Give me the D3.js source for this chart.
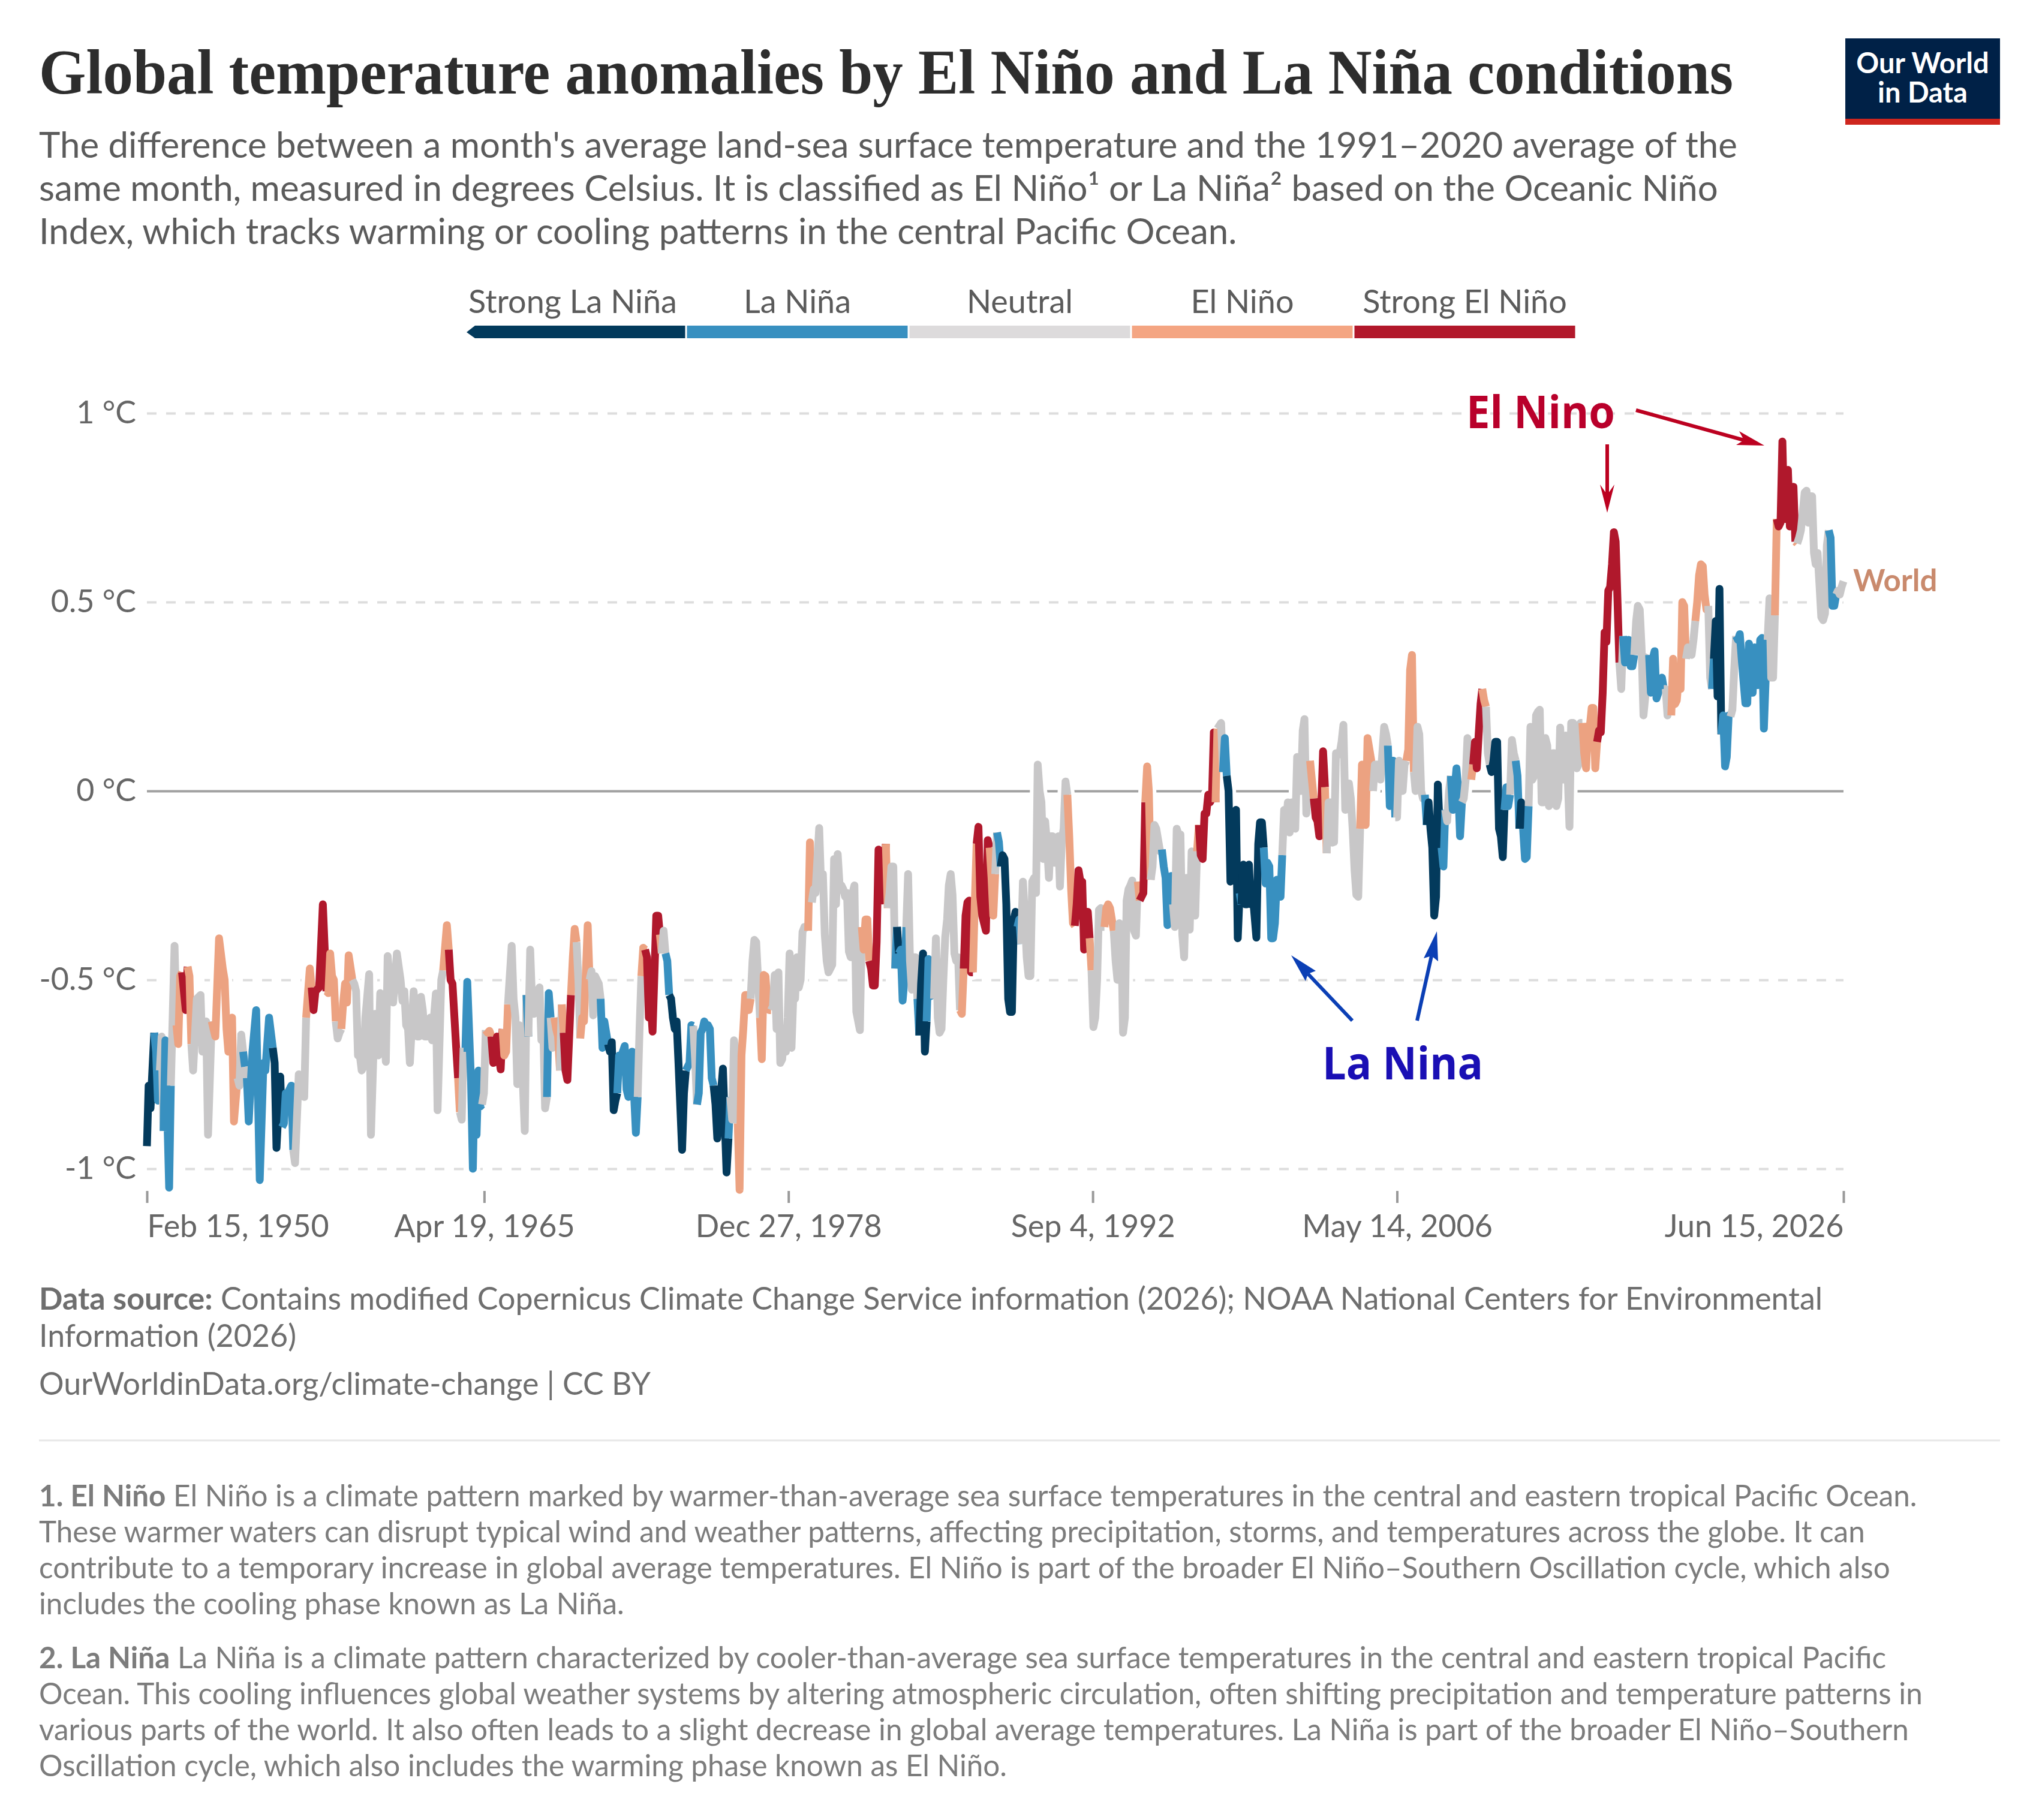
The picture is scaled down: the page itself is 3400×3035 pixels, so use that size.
<!DOCTYPE html>
<html>
<head>
<meta charset="utf-8">
<script src="https://cdn.jsdelivr.net/npm/d3@7"></script>
<style>
  html, body { margin: 0; padding: 0; background: #fff; }
  text { font-family: Lato, sans-serif; }
</style>
</head>
<body>
<svg id="chart" width="3400" height="3035"></svg>
<script>
// Legend and phases, index matches runPhases below
const phaseNames = ["Strong La Niña", "La Niña", "Neutral", "El Niño", "Strong El Niño"];
const legendColors = ["#023a5c", "#3890c0", "#dddbdc", "#f4a582", "#b2182b"];
const lineColors = ["#033a5c", "#3890c0", "#c8c7c8", "#eca281", "#b0182c"];

const yTicks = [-1, -0.5, 0, 0.5, 1];
const xTickDates = ["1950-02-15", "1965-04-19", "1978-12-27", "1992-09-04", "2006-05-14", "2026-06-15"];

// One entry per stretch of the line with the same phase.
const runPhases = [
  0, 1, 2, 1, 2, 3, 4, 3, 2, 3,
  2, 1, 2, 1, 0, 1, 2, 3, 4, 3,
  2, 3, 2, 3, 4, 3, 2, 1, 2, 3,
  4, 3, 2, 1, 2, 1, 2, 3, 2, 3,
  4, 3, 2, 3, 2, 1, 0, 1, 2, 3,
  4, 3, 2, 1, 0, 1, 2, 1, 0, 1,
  2, 3, 2, 3, 2, 3, 2, 3, 4, 3,
  2, 1, 0, 1, 2, 1, 0, 1, 2, 3,
  4, 3, 4, 3, 2, 1, 0, 1, 2, 3,
  4, 3, 2, 3, 2, 3, 4, 3, 2, 1,
  2, 3, 4, 3, 2, 1, 0, 1, 0, 1,
  2, 3, 4, 3, 2, 3, 2, 1, 2, 3,
  2, 1, 0, 1, 2, 1, 2, 3, 4, 3,
  2, 0, 1, 2, 1, 0, 1, 2, 3, 4,
  2, 1, 2, 1, 2, 3, 2, 3, 2, 1,
  0, 1, 2, 1, 2, 3, 4, 3, 2, 1, 2
];

const runMonths = [
  [0, 1, 2, 4],
  [5, 6, 7],
  [8, 9],
  [10, 12, 13],
  [15, 16],
  [17, 18, 19],
  [20, 21, 22],
  [23, 24],
  [25, 27, 29, 30, 32, 33, 35],
  [37, 39, 41, 42, 43, 44, 46, 47, 49],
  [50, 51, 52],
  [53],
  [54],
  [55, 57, 59, 61, 63, 64, 66, 68],
  [69, 70, 71, 72, 73],
  [74, 75, 76, 78, 79],
  [80, 82, 83, 85, 86],
  [88, 89],
  [90, 91, 93, 95, 97],
  [98, 99, 100, 101, 102],
  [103, 104, 105],
  [106, 107, 108, 109, 111],
  [112, 113, 114, 115, 116, 117, 118, 120, 121, 123, 124, 125, 126, 127, 128, 129, 130, 131, 133, 134, 135, 137, 138, 139, 140, 141, 142, 144, 145, 146, 147, 148, 149, 150, 152, 153, 154, 156, 157, 159, 160],
  [162, 163],
  [164, 165, 167, 168],
  [169],
  [170, 171],
  [172, 173, 175, 176, 177, 178, 179, 180, 181],
  [182, 183],
  [184, 185, 186],
  [187, 188, 189, 190, 191, 192],
  [193, 194, 195],
  [197, 198, 199, 200, 201, 202, 204, 205],
  [206],
  [207, 208, 209, 211, 212, 213, 214, 215, 216],
  [217, 218],
  [219, 220],
  [221, 222, 223],
  [224],
  [225],
  [226, 227, 229],
  [230, 231, 232],
  [233, 234],
  [235, 236, 238, 239],
  [240, 241, 242, 244, 245],
  [246, 247, 249],
  [250, 251, 252, 253, 254],
  [255, 256, 257, 258, 259, 260, 261, 262, 263, 264, 265],
  [266, 267],
  [268, 269],
  [270, 271, 272, 273, 275, 276, 277],
  [278],
  [279, 280],
  [281, 282],
  [283, 284, 285, 286, 287, 289, 290, 291],
  [292, 293, 294, 295],
  [296, 297],
  [298, 299, 300, 301, 302, 303, 304, 305, 306],
  [307, 308, 311, 313, 314],
  [315],
  [316, 317, 318, 319],
  [320, 321, 322, 323, 324, 325, 326],
  [327, 328, 329, 330, 331],
  [332, 333, 334, 335, 336, 337],
  [338, 339, 340, 341, 342, 343, 344, 345, 346, 347, 348, 349, 350, 351, 352, 353, 354, 355, 356, 357],
  [358, 359],
  [360, 361, 363, 364, 365, 366, 367, 368, 369, 370, 371, 372, 373, 374, 375, 376, 377, 378, 379, 380, 381, 382, 383, 385, 386],
  [387, 388, 389, 390],
  [391, 392, 393, 394, 395, 396, 397, 398, 399],
  [400],
  [401, 402, 403, 404],
  [405],
  [406],
  [407, 408, 409, 410],
  [411, 412, 413, 414, 415, 416],
  [417],
  [418, 419, 420, 421],
  [422, 423, 424, 425],
  [426, 427, 428, 429, 430, 431, 432, 433, 434, 435, 436, 437, 438, 439],
  [440, 441],
  [442, 443, 444, 445, 446],
  [447, 448],
  [449, 450, 451, 452, 453, 454, 455],
  [456, 457, 458],
  [459],
  [460, 461],
  [462, 463, 464, 465, 466, 467, 468, 469, 470],
  [471, 472],
  [473, 474, 475, 476, 477, 478, 479, 480, 481, 482, 483, 484, 485, 486, 487, 488, 489, 490, 491, 492, 493, 494, 495, 496, 497],
  [498, 499, 500, 501],
  [502, 503, 504, 505, 506, 507, 508, 509],
  [510],
  [511, 512, 513, 514, 515, 516, 517],
  [518, 519, 520, 521, 522],
  [523, 524, 525, 526, 527, 528, 529, 530, 531, 532, 533, 534, 535],
  [536],
  [537, 538, 539],
  [540, 541, 542],
  [543, 544, 545, 546, 547, 548],
  [549, 550, 551, 552, 553, 554],
  [555, 556, 557, 558, 559, 560, 561, 562, 563, 564, 565, 566, 567],
  [568],
  [569, 570, 571, 572, 573, 574, 575, 576, 577],
  [578],
  [580, 581],
  [582, 583],
  [584, 585, 586, 587, 588, 589, 590],
  [591],
  [592, 593, 594, 595, 596, 597, 599, 600, 601, 602, 603],
  [604, 605, 606, 607, 608, 609, 610, 611, 612, 613],
  [614, 615, 616, 617, 618, 619, 620, 621, 622, 623, 624, 625, 626, 627, 628],
  [629, 630],
  [631, 632, 633, 634, 635, 636],
  [637],
  [638, 639, 640, 641, 642, 643, 644, 645, 646, 647, 648, 649, 650, 651, 652, 653, 654, 655],
  [656, 657, 658, 659, 660, 661, 662],
  [663, 664, 665, 666, 667, 668, 669, 670],
  [671, 672, 673, 674],
  [675, 676, 677, 678, 679, 680],
  [681, 682, 683, 684],
  [685, 686, 687, 688, 689, 690],
  [691],
  [692, 693, 694, 695, 696, 697, 698, 699],
  [700, 701],
  [702, 703, 704],
  [705, 706, 707, 708, 709, 710],
  [711, 712, 713, 714, 715],
  [716],
  [717, 718, 719, 720, 721],
  [722, 723],
  [724, 725],
  [726, 727, 728, 729, 730, 731, 732, 733],
  [734, 735, 736],
  [737, 738, 739],
  [740, 741],
  [742, 743],
  [744, 745, 746],
  [747, 748, 749, 750, 751, 752, 753, 754, 755, 756, 757, 758, 759, 760, 761, 762, 763, 764, 765, 766, 767, 768, 769, 770, 771, 772, 773, 774, 775],
  [776, 777, 778, 779, 780, 781, 782, 783],
  [784, 785, 786, 787, 788, 789, 790, 791, 792, 793, 794, 795],
  [796, 797],
  [798, 799, 800, 801, 802, 803],
  [804, 805, 806, 807, 808, 809, 810, 811],
  [812, 813, 814, 815, 816, 817, 818, 819],
  [820, 821, 822, 823],
  [824, 825, 826, 827, 828, 829, 830, 831],
  [832, 833, 834, 835, 836],
  [837, 838, 839, 840, 841, 842, 843],
  [844, 845],
  [846],
  [847, 848, 849, 850],
  [851, 852, 853, 854, 855],
  [856, 857, 858],
  [859, 860, 861, 862, 863, 864, 865, 866, 867, 868, 869, 870, 871, 872, 873, 874, 875],
  [876, 877, 878, 879],
  [880],
  [881, 882, 883, 884, 885, 886, 887, 888, 889, 890],
  [891],
  [892, 893, 894, 895, 896, 897, 898, 899, 900, 901, 902, 903, 904, 905, 906, 907, 908],
  [909, 910, 911, 912],
  [913, 914, 915, 916]
];

const runValues = [
  [-0.94, -0.78, -0.84, -0.64],
  [-0.69, -0.82, -0.74],
  [-0.65, -0.9],
  [-0.66, -1.05, -0.78],
  [-0.41, -0.62],
  [-0.67, -0.49, -0.48],
  [-0.53, -0.58, -0.465],
  [-0.49, -0.67],
  [-0.74, -0.55, -0.54, -0.69, -0.61, -0.91, -0.61],
  [-0.65, -0.39, -0.47, -0.5, -0.63, -0.69, -0.6, -0.875, -0.76],
  [-0.78, -0.645, -0.69],
  [-0.73],
  [-0.76],
  [-0.875, -0.69, -0.58, -1.03, -0.72, -0.74, -0.6, -0.68],
  [-0.72, -0.945, -0.85, -0.756, -0.89],
  [-0.88, -0.8, -0.8, -0.78, -0.95],
  [-0.985, -0.75, -0.76, -0.81, -0.6],
  [-0.47, -0.52],
  [-0.58, -0.53, -0.52, -0.3, -0.53],
  [-0.535, -0.43, -0.49, -0.5, -0.61],
  [-0.655, -0.64, -0.63],
  [-0.56, -0.51, -0.56, -0.435, -0.5],
  [-0.51, -0.53, -0.7, -0.7, -0.74, -0.73, -0.6, -0.485, -0.91, -0.59, -0.59, -0.7, -0.535, -0.58, -0.62, -0.717, -0.437, -0.5, -0.56, -0.5, -0.43, -0.5, -0.556, -0.53, -0.62, -0.63, -0.72, -0.53, -0.6, -0.65, -0.65, -0.545, -0.58, -0.65, -0.65, -0.6, -0.66, -0.536, -0.845, -0.5, -0.475],
  [-0.355, -0.42],
  [-0.5, -0.51, -0.68, -0.76],
  [-0.85],
  [-0.87, -0.68],
  [-0.68, -0.505, -0.77, -1.0, -0.75, -0.91, -0.74, -0.835, -0.83],
  [-0.8, -0.633],
  [-0.64, -0.635, -0.65],
  [-0.72, -0.67, -0.65, -0.7, -0.737, -0.63],
  [-0.7, -0.69, -0.565],
  [-0.41, -0.55, -0.6, -0.776, -0.62, -0.65, -0.9, -0.54],
  [-0.65],
  [-0.42, -0.56, -0.59, -0.53, -0.52, -0.66, -0.62, -0.84, -0.81],
  [-0.535, -0.6],
  [-0.68, -0.6],
  [-0.63, -0.65, -0.74],
  [-0.565],
  [-0.64],
  [-0.74, -0.765, -0.54],
  [-0.44, -0.365, -0.4],
  [-0.5, -0.655],
  [-0.6, -0.61, -0.355, -0.5],
  [-0.477, -0.594, -0.49, -0.51, -0.55],
  [-0.68, -0.61, -0.67],
  [-0.69, -0.665, -0.845, -0.82, -0.8],
  [-0.7, -0.72, -0.69, -0.675, -0.79, -0.81, -0.7, -0.69, -0.8, -0.905, -0.81],
  [-0.63, -0.49],
  [-0.415, -0.42],
  [-0.44, -0.6, -0.56, -0.637, -0.33, -0.33, -0.38],
  [-0.43],
  [-0.37, -0.43],
  [-0.45, -0.54],
  [-0.55, -0.6, -0.63, -0.61, -0.72, -0.95, -0.8, -0.74],
  [-0.73, -0.72, -0.62, -0.622],
  [-0.71, -0.83],
  [-0.8, -0.64, -0.63, -0.61, -0.62, -0.62, -0.63, -0.76, -0.78],
  [-0.83, -0.92, -0.735, -1.01, -0.92],
  [-0.81],
  [-0.87, -0.66, -0.7, -0.88],
  [-1.056, -0.7, -0.63, -0.54, -0.54, -0.58, -0.55],
  [-0.45, -0.394, -0.4, -0.5, -0.6],
  [-0.71, -0.487, -0.49, -0.57, -0.58, -0.58],
  [-0.57, -0.487, -0.63, -0.48, -0.72, -0.71, -0.65, -0.69, -0.6, -0.43, -0.68, -0.55, -0.55, -0.44, -0.52, -0.5, -0.373, -0.36, -0.36, -0.37],
  [-0.136, -0.295],
  [-0.26, -0.27, -0.098, -0.25, -0.22, -0.38, -0.45, -0.48, -0.47, -0.46, -0.18, -0.3, -0.167, -0.25, -0.25, -0.26, -0.28, -0.27, -0.425, -0.44, -0.27, -0.25, -0.584, -0.633, -0.36],
  [-0.42, -0.34, -0.34, -0.45],
  [-0.47, -0.515, -0.515, -0.4, -0.155, -0.17, -0.29, -0.25, -0.14],
  [-0.31],
  [-0.27, -0.2, -0.2, -0.47],
  [-0.36],
  [-0.43],
  [-0.42, -0.555, -0.5, -0.36],
  [-0.22, -0.45, -0.526, -0.44, -0.44, -0.55],
  [-0.647],
  [-0.51, -0.43, -0.69, -0.61],
  [-0.445, -0.45, -0.54, -0.55],
  [-0.39, -0.6, -0.64, -0.63, -0.5, -0.387, -0.34, -0.25, -0.22, -0.275, -0.43, -0.45, -0.44, -0.58],
  [-0.59, -0.47],
  [-0.33, -0.295, -0.29, -0.48, -0.48],
  [-0.3, -0.14],
  [-0.095, -0.28, -0.33, -0.35, -0.37, -0.13, -0.15],
  [-0.23, -0.33, -0.22],
  [-0.11],
  [-0.135, -0.2],
  [-0.17, -0.18, -0.3, -0.55, -0.585, -0.585, -0.34, -0.32, -0.36],
  [-0.34, -0.405],
  [-0.24, -0.33, -0.44, -0.49, -0.49, -0.24, -0.23, -0.27, 0.07, 0, -0.03, -0.18, -0.08, -0.14, -0.23, -0.12, -0.12, -0.19, -0.13, -0.12, -0.253, -0.13, -0.1, 0.025, -0.01],
  [-0.12, -0.26, -0.35, -0.357],
  [-0.3, -0.21, -0.24, -0.24, -0.42, -0.32, -0.32, -0.39],
  [-0.475],
  [-0.625, -0.6, -0.5, -0.315, -0.31, -0.36, -0.36],
  [-0.31, -0.3, -0.31, -0.34, -0.37],
  [-0.45, -0.5, -0.35, -0.355, -0.64, -0.6, -0.29, -0.26, -0.25, -0.237, -0.37, -0.383, -0.24],
  [-0.29],
  [-0.28, -0.27, -0.03],
  [0.065, 0, -0.235],
  [-0.2, -0.09, -0.1, -0.13, -0.16, -0.155],
  [-0.2, -0.23, -0.355, -0.34, -0.225, -0.3],
  [-0.36, -0.1, -0.115, -0.115, -0.38, -0.44, -0.23, -0.23, -0.367, -0.16, -0.17, -0.33, -0.16],
  [-0.09],
  [-0.17, -0.18, -0.06, -0.06, -0.01, -0.03, -0.02, 0.155, -0.03],
  [0.165],
  [0.18, 0.05],
  [0.14, 0.04],
  [0, -0.24, -0.15, -0.1, -0.05, -0.39, -0.27],
  [-0.3],
  [-0.195, -0.3, -0.3, -0.195, -0.3, -0.27, -0.388, -0.14, -0.083, -0.083, -0.15],
  [-0.245, -0.19, -0.2, -0.39, -0.39, -0.35, -0.235, -0.27, -0.28, -0.17],
  [-0.05, -0.1, -0.03, -0.11, -0.03, -0.05, -0.1, 0.09, 0.02, 0, 0.16, 0.19, -0.06, 0.06, 0.08],
  [0.03, -0.02],
  [-0.07, -0.08, -0.12, -0.05, 0.105, 0.01],
  [-0.165],
  [-0.03, -0.03, -0.137, -0.135, 0.1, 0.095, 0.1, 0.13, 0.175, -0.05, -0.04, 0.02, -0.02, -0.1, -0.208, -0.275, -0.28, -0.1],
  [0.07, 0.06, -0.09, 0.14, 0.11, 0.083, 0],
  [0.07, 0.07, 0.07, 0.03, 0.1, 0.17, 0.15, 0.12],
  [-0.04, 0.08, 0.08, -0.07],
  [-0.07, 0.08, 0.07, 0, 0.07, 0.08],
  [0.11, 0.32, 0.36, 0.05],
  [0, 0.17, 0.15, 0, -0.02, -0.01],
  [-0.09],
  [-0.03, -0.1, -0.15, -0.33, -0.28, 0.017, -0.1, -0.15],
  [-0.2, -0.05],
  [-0.08, 0, 0.04],
  [-0.05, 0, 0.06, 0, -0.12, -0.03],
  [-0.02, 0.03, 0.14, 0.07, 0.03],
  [0.07],
  [0.13, 0.06, 0.15, 0.23, 0.27],
  [0.24, 0.223],
  [0.1, 0.07],
  [0.05, 0.08, 0.13, 0.13, -0.1, -0.12, -0.175, -0.05],
  [0.01, -0.04, -0.01],
  [0.135, 0.1, 0.08],
  [0.04, -0.1],
  [-0.03, -0.1],
  [-0.18, -0.175, -0.04],
  [0.17, 0.03, 0.04, 0.2, 0.21, 0.215, -0.03, -0.03, 0.14, 0.12, -0.04, -0.03, 0.1, 0.1, -0.04, -0.02, 0.168, 0.08, 0.03, 0.147, 0.05, -0.095, 0.18, 0.18, 0.17, 0.06, 0.07, 0.18, 0.18],
  [0.1, 0.06, 0.16, 0.17, 0.22, 0.22, 0.06, 0.13],
  [0.16, 0.155, 0.26, 0.42, 0.395, 0.53, 0.54, 0.6, 0.685, 0.66, 0.5, 0.34],
  [0.27, 0.41],
  [0.34, 0.38, 0.4, 0.33, 0.33, 0.36],
  [0.45, 0.49, 0.48, 0.38, 0.2, 0.25, 0.35, 0.36],
  [0.26, 0.35, 0.37, 0.245, 0.26, 0.29, 0.3, 0.27],
  [0.27, 0.2, 0.22, 0.2],
  [0.35, 0.23, 0.24, 0.3, 0.27, 0.5, 0.49, 0.35],
  [0.38, 0.37, 0.36, 0.4, 0.45],
  [0.5, 0.57, 0.6, 0.595, 0.52, 0.48, 0.49],
  [0.3, 0.27],
  [0.35],
  [0.45, 0.25, 0.535, 0.15],
  [0.2, 0.065, 0.09, 0.2, 0.197],
  [0.215, 0.32, 0.41],
  [0.4, 0.415, 0.35, 0.29, 0.232, 0.232, 0.39, 0.32, 0.26, 0.38, 0.28, 0.28, 0.4, 0.405, 0.165, 0.3, 0.4],
  [0.51, 0.3, 0.3, 0.465],
  [0.72],
  [0.7, 0.71, 0.925, 0.72, 0.72, 0.85, 0.7, 0.78, 0.805, 0.66],
  [0.655],
  [0.67, 0.69, 0.74, 0.79, 0.795, 0.71, 0.78, 0.78, 0.63, 0.6, 0.63, 0.55, 0.46, 0.452, 0.47, 0.65, 0.69],
  [0.67, 0.49, 0.49, 0.52],
  [0.53, 0.52, 0.54, 0.555]
];

const titleText = "Global temperature anomalies by El Niño and La Niña conditions";
const subtitleLines = [
  "The difference between a month's average land-sea surface temperature and the 1991–2020 average of the",
  "same month, measured in degrees Celsius. It is classified as El Niño¹ or La Niña² based on the Oceanic Niño",
  "Index, which tracks warming or cooling patterns in the central Pacific Ocean."
];
const sourceLines = [
  ["Data source:", " Contains modified Copernicus Climate Change Service information (2026); NOAA National Centers for Environmental"],
  ["", "Information (2026)"],
  ["", "OurWorldinData.org/climate-change | CC BY"]
];
const noteLines = [
  ["1. El Niño", " El Niño is a climate pattern marked by warmer-than-average sea surface temperatures in the central and eastern tropical Pacific Ocean."],
  ["", "These warmer waters can disrupt typical wind and weather patterns, affecting precipitation, storms, and temperatures across the globe. It can"],
  ["", "contribute to a temporary increase in global average temperatures. El Niño is part of the broader El Niño–Southern Oscillation cycle, which also"],
  ["", "includes the cooling phase known as La Niña."],
  ["2. La Niña", " La Niña is a climate pattern characterized by cooler-than-average sea surface temperatures in the central and eastern tropical Pacific"],
  ["", "Ocean. This cooling influences global weather systems by altering atmospheric circulation, often shifting precipitation and temperature patterns in"],
  ["", "various parts of the world. It also often leads to a slight decrease in global average temperatures. La Niña is part of the broader El Niño–Southern"],
  ["", "Oscillation cycle, which also includes the warming phase known as El Niño."]
];

const svg = d3.select("#chart");

// Header
svg.append("text")
  .attr("x", 65).attr("y", 156)
  .attr("textLength", 2825).attr("lengthAdjust", "spacingAndGlyphs")
  .style("font-family", "'Liberation Serif', serif")
  .style("font-weight", 700).style("font-size", "106px")
  .attr("fill", "#2d2d2d")
  .text(titleText);

svg.selectAll(".subtitle")
  .data(subtitleLines)
  .enter().append("text")
  .attr("class", "subtitle")
  .attr("x", 65).attr("y", (d, i) => 263 + i * 72)
  .style("font-size", "60px")
  .attr("fill", "#5b5b5b")
  .text(d => d);

// Logo
const logo = svg.append("g");
logo.append("rect").attr("x", 3077).attr("y", 64).attr("width", 258).attr("height", 144).attr("fill", "#002147");
logo.append("rect").attr("x", 3077).attr("y", 198).attr("width", 258).attr("height", 10).attr("fill", "#ce261e");
const logoText = logo.append("text")
  .attr("text-anchor", "middle")
  .style("font-size", "47px").style("font-weight", 700)
  .attr("fill", "#fff");
logoText.append("tspan").attr("x", 3206).attr("y", 122).text("Our World");
logoText.append("tspan").attr("x", 3206).attr("y", 171).text("in Data");

// Legend
const legendX = d3.scaleLinear().domain([0, 5]).range([773, 2628]);
const legend = svg.append("g");
phaseNames.forEach((name, i) => {
  const x0 = legendX(i) + (i === 0 ? 5 : 1.5);
  const x1 = legendX(i + 1) - 1.5;
  if (i === 0) {
    legend.append("path")
      .attr("d", `M${x0},554 L${x0 + 14},543 H${x1} V564 H${x0 + 14} Z`)
      .attr("fill", legendColors[i]);
  } else {
    legend.append("rect")
      .attr("x", x0).attr("y", 543)
      .attr("width", x1 - x0).attr("height", 21)
      .attr("fill", legendColors[i]);
  }
  legend.append("text")
    .attr("x", i === 0 ? 955 : (x0 + x1) / 2).attr("y", 522)
    .attr("text-anchor", "middle")
    .style("font-size", "54px")
    .attr("fill", "#5b5b5b")
    .text(name);
});

// Scales
const monthDate = (m) => new Date(Date.UTC(1950, 1 + m, 15));
const xScale = d3.scaleUtc()
  .domain([new Date(Date.UTC(1950, 1, 15)), new Date(Date.UTC(2026, 5, 15))])
  .range([245, 3074]);
const yScale = d3.scaleLinear().domain([-1, 1]).range([1949, 689]);

// Y grid and labels
const yAxis = svg.append("g")
  .attr("transform", "translate(245,0)")
  .call(d3.axisLeft(yScale).tickValues(yTicks).tickSize(-2829).tickPadding(18)
    .tickFormat(d => `${d} °C`));
yAxis.select(".domain").remove();
yAxis.selectAll(".tick line")
  .attr("stroke", d => d === 0 ? "#a1a1a1" : "#dddddd")
  .attr("stroke-width", 4)
  .attr("stroke-dasharray", d => d === 0 ? null : "16,16");
yAxis.selectAll(".tick text")
  .style("font-size", "52px")
  .attr("fill", "#666");

// X ticks and labels
const xTicks = xTickDates.map(d => new Date(d + "T00:00:00Z"));
const xAxis = svg.append("g")
  .attr("transform", "translate(0,1986)")
  .call(d3.axisBottom(xScale).tickValues(xTicks).tickSize(20).tickPadding(20)
    .tickFormat(d3.utcFormat("%b %-d, %Y")));
xAxis.select(".domain").remove();
xAxis.selectAll(".tick line").attr("stroke", "#999").attr("stroke-width", 4);
xAxis.selectAll(".tick text")
  .style("font-size", "52px")
  .attr("fill", "#666")
  .attr("text-anchor", (d, i) => i === 0 ? "start" : i === xTicks.length - 1 ? "end" : "middle");

// Anomaly line, with a white halo under the whole thing
const line = d3.line()
  .x(d => xScale(monthDate(d[0])))
  .y(d => yScale(d[1]));

const allPoints = d3.merge(runMonths.map((ms, i) => d3.zip(ms, runValues[i])));
svg.append("path")
  .attr("d", line(allPoints))
  .attr("fill", "none")
  .attr("stroke", "#fff")
  .attr("stroke-width", 25)
  .attr("stroke-linejoin", "round");

let last = null;
runPhases.forEach((phase, i) => {
  const pts = d3.zip(runMonths[i], runValues[i]);
  if (last) pts.unshift(last);
  last = pts[pts.length - 1];
  svg.append("path")
    .attr("d", line(pts))
    .attr("fill", "none")
    .attr("stroke", lineColors[phase])
    .attr("stroke-width", 13)
    .attr("stroke-linejoin", "round")
    .attr("stroke-linecap", "butt");
});

svg.append("text")
  .attr("x", 3090).attr("y", 986)
  .style("font-size", "51px").style("font-weight", 700)
  .attr("fill", "#c98a6d")
  .text("World");

// Hand drawn annotations
function arrow(x1, y1, x2, y2, barbA, barbB, notch, color) {
  svg.append("line")
    .attr("x1", x1).attr("y1", y1).attr("x2", notch[0]).attr("y2", notch[1])
    .attr("stroke", color).attr("stroke-width", 6);
  svg.append("path")
    .attr("d", `M${x2},${y2} L${barbA[0]},${barbA[1]} L${notch[0]},${notch[1]} L${barbB[0]},${barbB[1]} Z`)
    .attr("fill", color);
}
const redInk = "#bc0120";
const blueInk = "#0b3fb5";
arrow(2680, 741, 2680, 855, [2668, 808], [2692, 808], [2680, 825], redInk);
arrow(2728, 684, 2942, 743, [2900, 719], [2895, 742], [2908, 734], redInk);
arrow(2255, 1702, 2153, 1593, [2194, 1619], [2177, 1636], [2181, 1624], blueInk);
arrow(2363, 1702, 2396, 1553, [2374, 1598], [2398, 1603], [2387, 1594], blueInk);

svg.append("text")
  .attr("x", 2445).attr("y", 714)
  .attr("textLength", 248).attr("lengthAdjust", "spacingAndGlyphs")
  .style("font-family", "'Open Sans', sans-serif")
  .style("font-size", "76px").style("font-weight", 700)
  .attr("fill", "#b9002b")
  .text("El Nino");
svg.append("text")
  .attr("x", 2205).attr("y", 1800)
  .attr("textLength", 268).attr("lengthAdjust", "spacingAndGlyphs")
  .style("font-family", "'Open Sans', sans-serif")
  .style("font-size", "76px").style("font-weight", 700)
  .attr("fill", "#1a0fb4")
  .text("La Nina");

// Footer
function boldLeadLine(sel, lines, yOf, size, color) {
  lines.forEach((l, i) => {
    const t = sel.append("text")
      .attr("x", 65).attr("y", yOf(i))
      .style("font-size", size + "px")
      .attr("fill", color);
    if (l[0]) t.append("tspan").style("font-weight", 700).text(l[0]);
    t.append("tspan").attr("xml:space", "preserve").text(l[1]);
  });
}
const sourceY = [2184, 2246, 2326];
boldLeadLine(svg, sourceLines, i => sourceY[i], 52, "#6e6e6e");

svg.append("line")
  .attr("x1", 65).attr("x2", 3335).attr("y1", 2402).attr("y2", 2402)
  .attr("stroke", "#e7e7e7").attr("stroke-width", 3);

const noteY = [2512, 2572, 2632, 2692, 2782, 2842, 2902, 2962];
boldLeadLine(svg, noteLines, i => noteY[i], 49.4, "#7c7c7c");
</script>
</body>
</html>
